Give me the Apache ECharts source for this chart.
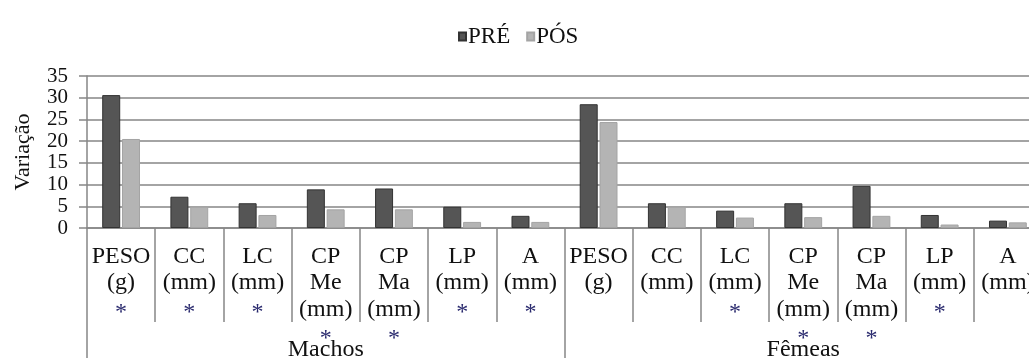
<!DOCTYPE html>
<html>
<head>
<meta charset="utf-8">
<script src="https://cdn.jsdelivr.net/npm/echarts@6/dist/echarts.min.js"></script>
<style>html,body{margin:0;padding:0;background:#fff}#c{width:1029px;height:358px}</style>
</head>
<body>
<div id="c"></div>
<script>
var categories = ['PESO\n(g)', 'CC\n(mm)', 'LC\n(mm)', 'CP\nMe\n(mm)', 'CP\nMa\n(mm)', 'LP\n(mm)', 'A\n(mm)',
                  'PESO\n(g)', 'CC\n(mm)', 'LC\n(mm)', 'CP\nMe\n(mm)', 'CP\nMa\n(mm)', 'LP\n(mm)', 'A\n(mm)'];
var significant = [true, true, true, true, true, true, true,
                   false, false, true, true, true, true, false];
var groups = ['Machos', 'Fêmeas'];
var pre = [30.6, 7.2, 5.7, 8.9, 9.1, 4.9, 2.8,
           28.5, 5.7, 4.0, 5.7, 9.7, 3.0, 1.7];
var pos = [20.5, 4.9, 3.0, 4.3, 4.3, 1.4, 1.4,
           24.4, 4.9, 2.4, 2.5, 2.8, 0.8, 1.3];

var FONT = 'Liberation Serif';
var GRID = '#868686';

var chart = echarts.init(document.getElementById('c'));
chart.setOption({
  animation: false,
  textStyle: { fontFamily: FONT, color: '#111' },
  legend: {
    left: 453, top: 20,
    itemWidth: 7, itemHeight: 8, itemGap: 16,
    icon: 'rect',
    textStyle: { fontFamily: FONT, fontSize: 23, color: '#111', padding: [0, 0, 0, -3] },
    data: ['PRÉ', 'PÓS']
  },
  grid: { left: 87, right: -13, top: 76, bottom: 130, containLabel: false, outerBoundsMode: 'none' },
  xAxis: [{
    type: 'category',
    data: categories,
    position: 'bottom',
    axisLine: { show: true, lineStyle: { color: GRID, width: 1.5 } },
    axisTick: { show: true, interval: 0, length: 94, lineStyle: { color: GRID, width: 1.5 } },
    axisLabel: {
      interval: 0, margin: 15,
      formatter: function (v, i) {
        var lines = v.split('\n').map(function (s) { return '{t|' + s + '}'; });
        if (significant[i]) lines.push('{s|*}');
        return lines.join('\n');
      },
      rich: {
        t: { fontFamily: FONT, fontSize: 24, lineHeight: 26.5, color: '#111' },
        s: { fontFamily: FONT, fontSize: 24, lineHeight: 26.5, color: '#2a2a6e', padding: [6, 0, 0, 0] }
      }
    }
  }, {
    type: 'category',
    data: groups,
    position: 'bottom',
    axisLine: { show: false },
    axisTick: { show: true, interval: 0, length: 130, lineStyle: { color: GRID, width: 1.5 } },
    axisLabel: { interval: 0, margin: 110, fontFamily: FONT, fontSize: 24, lineHeight: 24, color: '#111' },
    splitLine: { show: false }
  }],
  yAxis: {
    type: 'value',
    min: 0, max: 35, interval: 5,
    name: 'Variação',
    nameLocation: 'middle',
    nameGap: 53,
    nameRotate: 90,
    nameTextStyle: { fontFamily: FONT, fontSize: 22, color: '#111' },
    axisLine: { show: true, lineStyle: { color: GRID, width: 1.5 } },
    axisTick: { show: true, length: 8, lineStyle: { color: GRID, width: 1.5 } },
    axisLabel: {
      margin: 19, fontFamily: FONT, fontSize: 21, lineHeight: 21, padding: [-4, 0, -4, 0], color: '#111',
      showMinLabel: true, showMaxLabel: true, hideOverlap: false
    },
    splitLine: { show: true, lineStyle: { color: GRID, width: 1.5 } }
  },
  series: [{
    name: 'PRÉ', type: 'bar', xAxisIndex: 0,
    data: pre, barWidth: 18, barGap: '10%',
    itemStyle: { color: '#555555', borderColor: '#333', borderWidth: 1 }
  }, {
    name: 'PÓS', type: 'bar', xAxisIndex: 0,
    data: pos, barWidth: 18,
    itemStyle: { color: '#b4b4b4', borderColor: '#a4a4a4', borderWidth: 1 }
  }]
});
</script>
</body>
</html>
